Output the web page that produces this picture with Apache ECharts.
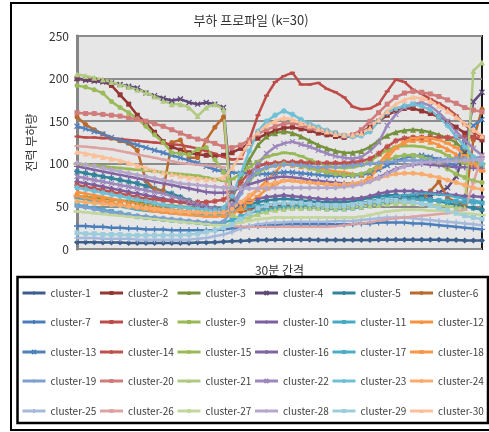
<!DOCTYPE html>
<html>
<head>
<meta charset="utf-8">
<script src="https://cdn.jsdelivr.net/npm/echarts@6/dist/echarts.min.js"></script>
<style>
  html, body { margin: 0; padding: 0; background: #ffffff; }
  #chart { width: 489px; height: 432px; }
</style>
</head>
<body>
<div id="chart"></div>
<script>
// 48 half-hour slots of the day
const timeSlots = ["00:00","00:30","01:00","01:30","02:00","02:30","03:00","03:30","04:00","04:30",
  "05:00","05:30","06:00","06:30","07:00","07:30","08:00","08:30","09:00","09:30",
  "10:00","10:30","11:00","11:30","12:00","12:30","13:00","13:30","14:00","14:30",
  "15:00","15:30","16:00","16:30","17:00","17:30","18:00","18:30","19:00","19:30",
  "20:00","20:30","21:00","21:30","22:00","22:30","23:00","23:30"];

const yTicks = [0, 50, 100, 150, 200, 250];

// cluster centroid load profiles
const cluster1 = [8,8,8,7.5,7.5,7.5,7,7,7,7,7,7,7,7,7.5,7.5,8,8.5,9,9.5,10,10.5,10.5,11,11,11,11,11,10.5,10.5,10.5,10.5,10.5,10.5,10.5,11,11,11,11,11,11,11,11,10.5,10.5,10,10,10];
const cluster2 = [200,199,198,197,192,181,170,157,148,137,126,120,116,113,111,110,109,110,113,118,124,130,135,139,142,143,141,139,136,134,132,131,133,137,143,150,157,162,165,165,162,159,155,149,143,136,131,128];
const cluster3 = [62,61,60,59,58,57,56,55,54,53,52,51,50,49,48,47,46,47,60,82,105,122,132,136,138,136,132,127,122,118,115,113,113,115,120,127,133,137,139,140,139,137,134,130,125,115,105,100];
const cluster4 = [200,198,197,196,195,193,191,189,183,180,177,174,176,172,170,172,170,166,58,50,48,48,49,50,51,51,51,50,50,49,49,49,50,51,52,54,56,58,60,61,62,63,66,72,85,113,173,184];
const cluster5 = [91,89,87,85,83,81,79,77,74,71,68,65,61,57,53,50,48,47,47,49,52,55,57,58,59,58,57,56,55,55,55,55,56,58,60,62,63,63,62,61,60,58,56,54,52,50,48,46];
const cluster6 = [155,146,140,135,130,127,124,116,80,70,68,125,128,107,107,128,143,155,45,44,45,47,48,49,50,50,50,49,49,48,48,48,49,50,52,54,56,57,58,58,58,68,79,60,55,52,128,164];
const cluster7 = [27,27,26,26,25,25,24,24,23,23,23,22,22,22,22,22,22,23,24,25,26,27,28,28,29,29,29,29,29,29,29,29,29,30,30,31,31,31,31,30,30,29,28,27,26,25,24,23];
const cluster8 = [132,131,131,130,130,129,128,127,126,125,124,123,122,120,118,115,112,108,105,106,128,157,180,196,203,207,193,193,195,188,184,178,167,164,165,170,185,199,196,187,182,176,171,165,157,146,137,132];
const cluster9 = [100,99,98,97,96,95,94,93,92,91,90,89,88,87,86,84,82,80,82,88,96,103,108,111,113,112,109,105,101,98,96,95,96,98,103,110,116,120,121,121,120,118,115,110,104,100,100,100];
const cluster10 = [79,77,75,73,71,69,67,65,63,61,59,57,55,53,51,49,47,46,48,52,56,59,61,62,63,62,61,60,59,58,58,58,59,60,62,65,67,68,68,68,67,66,65,64,63,62,62,61];
const cluster11 = [52,50,48,46,44,42,40,38,37,36,35,34,33,32,31,30,30,31,34,38,42,45,47,48,49,49,49,48,48,47,47,47,48,49,51,53,55,57,58,58,58,57,57,56,56,55,55,54];
const cluster12 = [67,65,63,61,59,57,55,53,51,49,47,46,45,44,43,42,41,40,40,50,60,70,80,90,101,99,97,96,95,93,91,90,88,87,90,100,112,120,125,128,128,126,122,117,111,105,99,93];
const cluster13 = [144,141,138,135,131,128,125,122,119,116,113,110,107,104,101,97,93,91,90,89,89,88,88,89,90,90,89,88,87,86,86,86,86,87,89,93,98,103,107,109,110,108,105,101,98,130,145,152];
const cluster14 = [75,73,71,69,67,65,63,61,59,58,57,56,55,55,55,55,56,58,65,78,90,97,100,101,102,102,102,101,101,101,101,101,102,103,106,112,120,127,130,131,131,131,131,131,131,131,131,131];
const cluster15 = [192,190,187,183,173,166,160,153,144,134,125,113,112,111,117,119,105,90,70,72,80,90,95,98,100,99,97,95,92,90,88,87,87,88,92,98,104,108,110,110,108,105,100,94,88,84,80,78];
const cluster16 = [97,95,93,91,89,87,85,83,81,79,77,75,73,71,69,67,66,66,68,72,76,79,82,84,85,84,83,81,80,79,78,77,77,78,80,84,89,94,97,99,100,99,98,97,96,96,95,95];
const cluster17 = [60,58,56,54,52,50,48,46,45,44,43,42,41,41,40,40,40,41,43,46,49,51,52,53,53,53,52,52,51,51,51,51,52,54,56,58,60,62,63,64,65,65,64,63,61,59,57,55];
const cluster18 = [62,60,58,56,54,52,50,48,46,44,43,42,41,40,39,38,38,39,42,46,54,62,70,76,80,80,79,78,77,76,75,75,76,78,84,95,107,118,126,130,131,130,128,124,119,110,100,92];
const cluster19 = [50,49,47,45,43,42,40,39,38,37,36,35,34,33,32,31,30,32,45,65,82,92,96,98,99,99,98,97,96,96,96,97,98,99,100,101,102,103,104,104,104,104,105,105,106,106,107,108];
const cluster20 = [160,159,159,158,157,156,154,152,150,147,144,140,136,132,129,127,124,120,119,122,128,135,140,144,147,148,145,142,140,138,136,133,134,140,150,160,170,178,183,185,184,182,179,175,171,166,163,161];
const cluster21 = [205,203,201,199,196,193,190,187,184,179,174,170,170,166,156,166,170,164,40,35,37,41,44,46,47,48,48,48,48,48,48,48,49,50,51,52,53,54,54,54,53,52,51,50,49,48,209,219];
const cluster22 = [85,83,81,79,77,75,73,71,69,67,65,62,59,56,53,50,47,45,52,68,85,100,112,120,124,126,123,120,116,112,109,107,106,108,115,125,145,158,166,170,172,168,160,150,138,128,118,110];
const cluster23 = [72,70,68,66,64,62,60,58,56,54,52,50,49,48,47,46,45,48,62,88,115,138,150,157,162,158,152,147,143,139,136,133,132,133,138,150,160,165,168,170,168,163,155,145,132,120,108,100];
const cluster24 = [56,55,54,53,52,51,50,49,48,47,46,45,44,43,43,42,42,43,47,55,63,70,75,78,80,80,79,78,77,76,76,76,77,78,80,83,86,88,89,89,88,86,84,81,78,75,72,70];
const cluster25 = [13,13,13,12,12,12,12,11,11,11,11,11,11,11,12,13,15,17,20,24,27,29,30,31,31,32,32,32,32,32,33,33,33,34,35,36,37,37,37,36,35,34,33,32,31,30,29,28];
const cluster26 = [121,120,119,118,117,115,113,111,109,107,105,103,101,100,99,98,97,96,27,26,26,26,26,26,26,26,26,26,26,26,27,28,29,30,31,33,35,36,37,38,39,40,41,42,44,46,78,110];
const cluster27 = [44,43,42,41,40,39,38,37,36,35,34,33,32,31,30,29,28,28,29,31,33,35,36,37,37,37,37,37,37,37,37,37,37,38,40,42,44,45,46,46,46,45,45,44,43,42,41,40];
const cluster28 = [101,99,97,95,93,91,89,87,85,83,81,79,77,76,75,74,73,72,72,71,71,71,71,72,72,72,72,72,72,72,72,73,74,76,79,83,88,93,97,100,101,102,102,103,103,104,104,105];
const cluster29 = [19,18,18,17,17,17,16,16,16,16,16,16,16,17,18,20,22,25,29,35,42,48,51,53,54,54,54,53,52,51,51,51,52,53,55,56,57,57,56,55,53,51,48,45,42,39,37,35];
const cluster30 = [114,112,110,108,106,104,101,98,95,92,90,88,86,84,83,82,82,84,95,110,125,137,145,150,154,152,148,145,141,138,135,134,134,136,142,152,162,170,175,178,177,174,168,162,155,147,140,133];

const clusterNames = ["cluster-1","cluster-2","cluster-3","cluster-4","cluster-5","cluster-6",
  "cluster-7","cluster-8","cluster-9","cluster-10","cluster-11","cluster-12",
  "cluster-13","cluster-14","cluster-15","cluster-16","cluster-17","cluster-18",
  "cluster-19","cluster-20","cluster-21","cluster-22","cluster-23","cluster-24",
  "cluster-25","cluster-26","cluster-27","cluster-28","cluster-29","cluster-30"];

const clusterValues = [cluster1,cluster2,cluster3,cluster4,cluster5,cluster6,cluster7,cluster8,cluster9,cluster10,
  cluster11,cluster12,cluster13,cluster14,cluster15,cluster16,cluster17,cluster18,cluster19,cluster20,
  cluster21,cluster22,cluster23,cluster24,cluster25,cluster26,cluster27,cluster28,cluster29,cluster30];

const clusterColors = ["#3B5E8C","#943634","#76923C","#5F497A","#31849B","#BC6A2C",
  "#4A7EBB","#BE4B48","#98B954","#7D60A0","#46AAC5","#F69240",
  "#4F81BD","#C0504D","#9BBB59","#8064A2","#4BACC6","#F79646",
  "#7E9FCF","#D07C7B","#B1CA82","#9D87BC","#6FBFD6","#F9AC6D",
  "#A5B9DB","#DDA3A2","#C3D69B","#B6A6CC","#9DCDDD","#FAC09A"];

// marker cycle: diamond, square, triangle, x, asterisk, circle, plus, dash, long dash
const markerCycle = [
  { symbol: 'diamond', size: 6 },
  { symbol: 'rect', size: 5 },
  { symbol: 'triangle', size: 6 },
  { symbol: 'path://M0,0L10,10M10,0L0,10', size: 5, stroke: true },
  { symbol: 'path://M5,0L5,10M0,5L10,5M1.5,1.5L8.5,8.5M8.5,1.5L1.5,8.5', size: 6, stroke: true },
  { symbol: 'circle', size: 5 },
  { symbol: 'path://M5,0L5,10M0,5L10,5', size: 6, stroke: true },
  { symbol: 'rect', size: [5, 2] },
  { symbol: 'rect', size: [7, 2.5] }
];

const FONT = '"Noto Sans CJK KR", "Noto Sans", sans-serif';

const series = clusterNames.map((name, k) => {
  const m = markerCycle[k % markerCycle.length];
  const c = clusterColors[k];
  return {
    name: name,
    type: 'line',
    data: clusterValues[k],
    symbol: m.symbol,
    symbolSize: m.size,
    showSymbol: true,
    showAllSymbol: true,
    lineStyle: { color: c, width: 2.5 },
    itemStyle: m.stroke ? { color: c, borderColor: c, borderWidth: 1.3 } : { color: c, borderWidth: 0 },
    emphasis: { disabled: true },
    z: 2
  };
});

// legend: 5 rows of 6 entries
const legendRowsY = [293, 322, 352, 381, 411];
const legends = legendRowsY.map((y, r) => ({
  data: clusterNames.slice(r * 6, r * 6 + 6),
  left: 21,
  top: y - 7,
  width: 480,
  padding: 0,
  orient: 'horizontal',
  itemWidth: 23,
  itemHeight: 5,
  itemGap: 0,
  selectedMode: false,
  lineStyle: { width: 3 },
  textStyle: { fontSize: 10, color: '#404040', fontFamily: FONT, width: 48, lineHeight: 14 }
}));

const chart = echarts.init(document.getElementById('chart'), null, { renderer: 'canvas' });
chart.setOption({
  animation: false,
  backgroundColor: '#ffffff',
  grid: {
    left: 77, right: 7, top: 36, bottom: 183,
    show: true,
    backgroundColor: '#E6E6E6',
    borderColor: '#1a1a1a',
    borderWidth: 2,
    containLabel: false
  },
  xAxis: {
    type: 'category',
    data: timeSlots,
    boundaryGap: false,
    name: '30분 간격',
    nameLocation: 'middle',
    nameGap: 15,
    nameTextStyle: { fontSize: 12, color: '#333333', fontFamily: FONT },
    axisLine: { show: false },
    axisTick: { show: false },
    axisLabel: { show: false },
    splitLine: { show: false }
  },
  yAxis: {
    type: 'value',
    min: yTicks[0],
    max: yTicks[yTicks.length - 1],
    interval: 50,
    name: '전력 부하량',
    nameLocation: 'middle',
    nameRotate: 90,
    nameGap: 40,
    nameTextStyle: { fontSize: 12, color: '#333333', fontFamily: FONT },
    axisLine: { show: true, lineStyle: { color: '#868686', width: 3 } },
    axisTick: { show: false },
    axisLabel: { fontSize: 12, color: '#333333', fontFamily: FONT, margin: 8 },
    splitLine: { show: true, lineStyle: { color: '#8C8C8C', width: 2 } }
  },
  legend: legends,
  graphic: [
    {
      type: 'rect', z: 100, silent: true,
      shape: { x: 11, y: 3, width: 500, height: 427 },
      style: { fill: 'none', stroke: '#000000', lineWidth: 2 }
    },
    {
      type: 'rect', z: 100, silent: true,
      shape: { x: 17.5, y: 277, width: 470.5, height: 146 },
      style: { fill: 'none', stroke: '#000000', lineWidth: 2.5 }
    },
    {
      type: 'text', z: 100, silent: true,
      x: 251, y: 20,
      style: {
        text: '부하 프로파일 (k=30)',
        fontSize: 13, fontFamily: FONT, fill: '#333333',
        align: 'center', verticalAlign: 'middle'
      }
    }
  ],
  series: series
});
</script>
</body>
</html>
